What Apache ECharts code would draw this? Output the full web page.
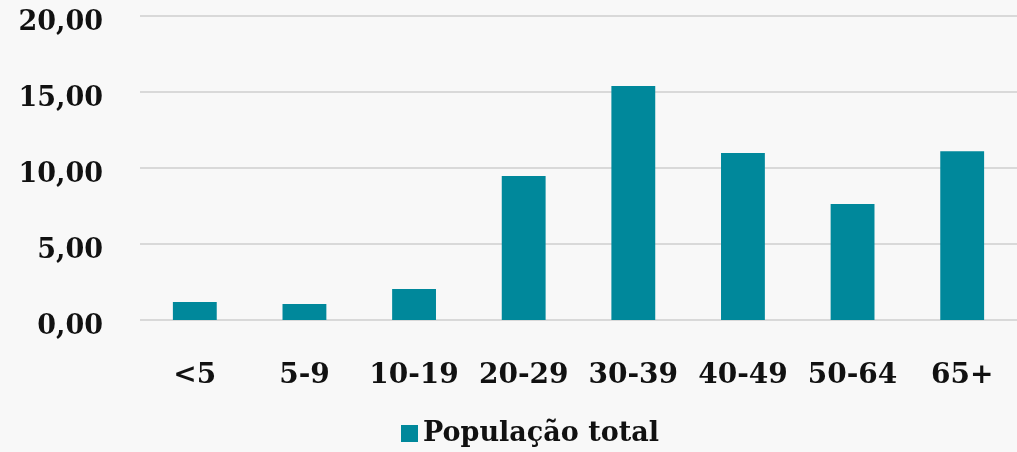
<!DOCTYPE html>
<html>
<head>
<meta charset="utf-8">
<script src="https://cdn.jsdelivr.net/npm/echarts@6/dist/echarts.min.js"></script>
<style>
  html, body { margin: 0; padding: 0; background: #f8f8f8; }
  #chart { width: 1017px; height: 452px; }
</style>
</head>
<body>
<div id="chart"></div>
<script>
var categories = ['<5', '5-9', '10-19', '20-29', '30-39', '40-49', '50-64', '65+'];
var populacao = [1.18, 1.05, 2.04, 9.47, 15.4, 10.99, 7.63, 11.1];
var yTicks = [0, 5, 10, 15, 20];

var font = '"DejaVu Serif", serif';
var chart = echarts.init(document.getElementById('chart'));

var option = {
    backgroundColor: '#f8f8f8',
    animation: false,
    grid: {
        left: 140,
        top: 16,
        width: 880,
        height: 304
    },
    legend: {
        data: ['População total'],
        bottom: 0,
        left: 396,
        itemWidth: 17,
        itemHeight: 17,
        itemGap: 8,
        icon: 'rect',
        textStyle: {
            fontFamily: font,
            fontWeight: 'bold',
            fontSize: 27,
            color: '#111'
        }
    },
    xAxis: {
        type: 'category',
        data: categories,
        axisLine: { show: false },
        axisTick: { show: false },
        axisLabel: {
            margin: 42,
            fontFamily: font,
            fontWeight: 'bold',
            fontSize: 28,
            color: '#111',
            interval: 0
        }
    },
    yAxis: {
        type: 'value',
        min: yTicks[0],
        max: yTicks[yTicks.length - 1],
        interval: 5,
        axisLine: { show: false },
        axisTick: { show: false },
        splitLine: { lineStyle: { color: '#d9d9d9', width: 2 } },
        axisLabel: {
            margin: 37,
            verticalAlign: 'top',
            lineHeight: 14,
            fontFamily: font,
            fontWeight: 'bold',
            fontSize: 27,
            color: '#111',
            formatter: function (v) { return v.toFixed(2).replace('.', ','); }
        }
    },
    series: [
        {
            name: 'População total',
            type: 'bar',
            data: populacao,
            barWidth: '40%',
            itemStyle: { color: '#00889b' }
        }
    ]
};
chart.setOption(option);
</script>
</body>
</html>
